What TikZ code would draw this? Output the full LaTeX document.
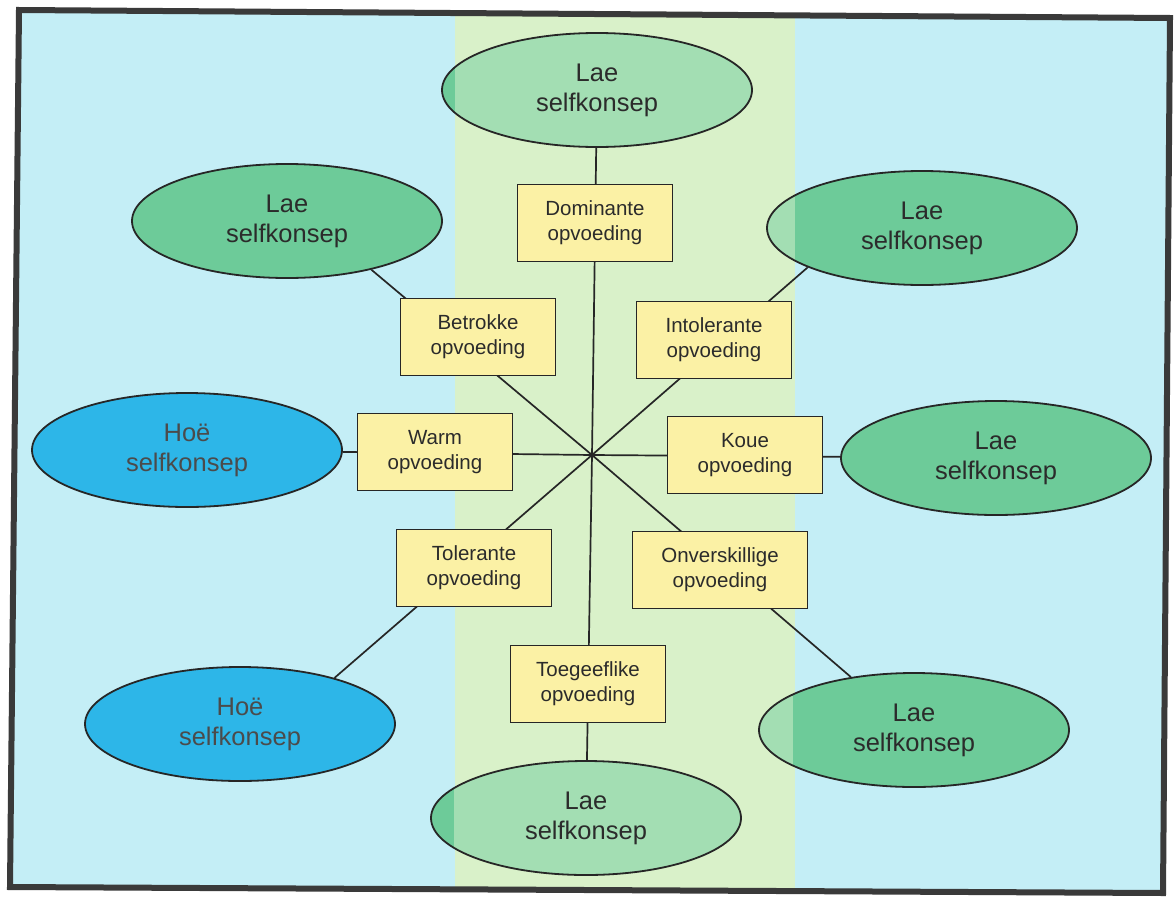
\documentclass[tikz,border=0pt]{standalone}
\usepackage{fontspec}
\setmainfont{Liberation Sans}
\usetikzlibrary{shapes.geometric}
\definecolor{bgblue}{HTML}{C4EEF6}
\definecolor{bandcol}{HTML}{D9F1C9}
\definecolor{ellgreen}{HTML}{6DCB99}
\definecolor{ellband}{HTML}{A3DEB3}
\definecolor{hoeblue}{HTML}{2DB6E8}
\definecolor{boxyellow}{HTML}{FBF1A5}
\definecolor{txt}{HTML}{2B2B2B}
\definecolor{linecol}{HTML}{262626}
\definecolor{framecol}{HTML}{3A3A3A}
\pgfdeclarelayer{background}
\pgfsetlayers{background,main}
\tikzset{
  ell/.style={shape=ellipse, draw=linecol, line width=1.8pt, fill=ellgreen,
    minimum width=310pt, minimum height=114pt, inner sep=0pt, text=txt,
    align=center, font=\fontsize{25.5}{30}\selectfont},
  hoe/.style={ell, fill=hoeblue, text=txt!85!white},
  bandpart/.style 2 args={path picture={\fill[ellband]
    ([xshift=#1]path picture bounding box.south west) rectangle
    ([xshift=#2]path picture bounding box.north west);}},
  opv/.style={shape=rectangle, draw=linecol, line width=1.8pt, fill=boxyellow,
    minimum width=155pt, minimum height=77pt, inner sep=0pt, text=txt,
    align=center, font=\fontsize{20.5}{25}\selectfont},
  conn/.style={draw=linecol, line width=1.7pt}
}
\begin{document}
\begin{tikzpicture}[x=1pt, y=-1pt]
\useasboundingbox (0,0) rectangle (1175,897);
\begin{pgfonlayer}{background}
  \fill[white] (0,0) rectangle (1175,897);
  \fill[bgblue] (19,10) -- (1170,18) -- (1163,893) -- (10,887) -- cycle;
  \fill[bandcol] (455,14) rectangle (795,890);
\end{pgfonlayer}
% ellipses
\node[ell, bandpart={13pt}{400pt}] (topE) at (597,90) {Lae\\selfkonsep};
\node[ell] (ulE) at (287,221) {Lae\\selfkonsep};
\node[ell, bandpart={-5pt}{28pt}] (urE) at (922,228) {Lae\\selfkonsep};
\node[hoe] (lE) at (187,450) {Hoë\\selfkonsep};
\node[ell] (rE) at (996,458) {Lae\\selfkonsep};
\node[hoe] (llE) at (240,724) {Hoë\\selfkonsep};
\node[ell, bandpart={-5pt}{34pt}] (lrE) at (914,730) {Lae\\selfkonsep};
\node[ell, bandpart={23pt}{400pt}] (botE) at (586,818) {Lae\\selfkonsep};
% boxes
\node[opv] (dom) at (595,223) {Dominante\\opvoeding};
\node[opv] (bet) at (478,337) {Betrokke\\opvoeding};
\node[opv] (intol) at (714,340) {Intolerante\\opvoeding};
\node[opv] (warm) at (435,452) {Warm\\opvoeding};
\node[opv] (koue) at (745,455) {Koue\\opvoeding};
\node[opv] (tol) at (474,568) {Tolerante\\opvoeding};
\node[opv, minimum width=175pt] (onv) at (720,570) {Onverskillige\\opvoeding};
\node[opv] (toe) at (588,684) {Toegeeflike\\opvoeding};
\coordinate (C) at (592,455);
% connectors (behind the boxes)
\begin{pgfonlayer}{background}
  \draw[conn] (C) -- (topE);
  \draw[conn] (C) -- (botE);
  \draw[conn] (C) -- (lE);
  \draw[conn] (C) -- (rE);
  \draw[conn] (C) -- (ulE.-30);
  \draw[conn] (C) -- (urE.-161);
  \draw[conn] (C) -- (llE.26);
  \draw[conn] (C) -- (lrE.140);
\end{pgfonlayer}
% frame
\draw[framecol, line width=6pt, line join=miter] (19,10) -- (1170,18) -- (1163,893) -- (10,887) -- cycle;
\end{tikzpicture}
\end{document}
